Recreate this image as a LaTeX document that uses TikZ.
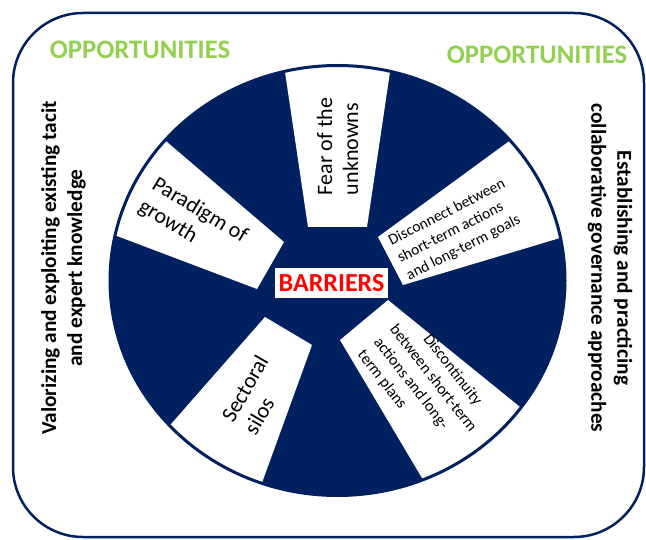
\documentclass[tikz,border=0pt]{standalone}
\usepackage{fontspec}
\setmainfont{Carlito}

% Define colors
\definecolor{barnavy}{RGB}{0,32,96}
\definecolor{oppgreen}{RGB}{146,208,80}
\definecolor{barred}{RGB}{255,0,0}

\tikzset{
  oppo/.style={font=\fontsize{26.7}{32}\selectfont\bfseries, text=oppgreen, inner sep=0pt},
  sidetext/.style={font=\fontsize{21.3}{26}\selectfont\bfseries, align=center, inner sep=0pt},
  bigseg/.style={font=\fontsize{22}{26}\selectfont, align=left, inner sep=0pt},
  smallseg/.style={font=\fontsize{15.5}{19.5}\selectfont, align=left, inner sep=0pt},
  segment/.style={fill=white},
  barrier/.style={fill=white, text=barred, font=\fontsize{26}{30}\selectfont\bfseries,
    inner xsep=3.5pt, inner ysep=0pt, minimum height=30pt}
}

\begin{document}
\begin{tikzpicture}[x=1pt, y=-1pt]
  \useasboundingbox (0,0) rectangle (646,540);

  % Draw the outer frame
  \draw[barnavy, line width=2.5pt, rounded corners=70pt] (13,13) rectangle (644,537);

  % Draw the wheel
  \fill[barnavy] (337.5,280.5) ellipse (227.5pt and 215pt);
  \begin{scope}
    \clip (337.5,280.5) ellipse (227.5pt and 215pt);
    % white segments
    \fill[segment] (308,227) -- (279.25,33.25) -- (395.75,33.25) -- (367,227) -- cycle;
    \fill[segment] (378,237) -- (540.5,118.25) -- (599.25,226.25) -- (403,285) -- cycle;
    \fill[segment] (388,300) -- (553,433.75) -- (442.5,512.5) -- (340,340) -- cycle;
    \fill[segment] (312,345) -- (250.75,513.75) -- (148.75,449.5) -- (265,317) -- cycle;
    \fill[segment] (257,289) -- (82,222.75) -- (137.75,117) -- (284,242) -- cycle;
  \end{scope}
  \draw[barnavy, line width=3pt] (337.5,280.5) ellipse (227.5pt and 215pt);

  % Opportunities
  \node[oppo] (oppleft) at (140,50) {OPPORTUNITIES};
  \node[oppo] (oppright) at (537,55) {OPPORTUNITIES};
  \node[sidetext, rotate=90] (valorize) at (63.5,268)
    {Valorizing and exploiting existing tacit\\and expert knowledge};
  \node[sidetext, rotate=-90] (establish) at (610,268)
    {Establishing and practicing\\collaborative governance approaches};

  % Barriers
  \node[bigseg, rotate=90] (fear) at (337.5,146.5) {Fear of the\\unknowns};
  \node[bigseg, rotate=-31] (paradigm) at (193,222) {Paradigm of\\growth};
  \node[smallseg, rotate=27] (disconnect) at (456,230)
    {Disconnect between\\short-term actions\\and long-term goals};
  \node[smallseg, rotate=-52, font=\fontsize{16}{20.5}\selectfont] (discontinuity) at (425,385)
    {\hspace*{28pt}Discontinuity\\between short-term\\actions and long-\\term plans};
  \node[bigseg, rotate=60] (silos) at (256,395) {Sectoral\\silos};
  \node[barrier] (barriers) at (331.5,283) {BARRIERS};
\end{tikzpicture}
\end{document}
